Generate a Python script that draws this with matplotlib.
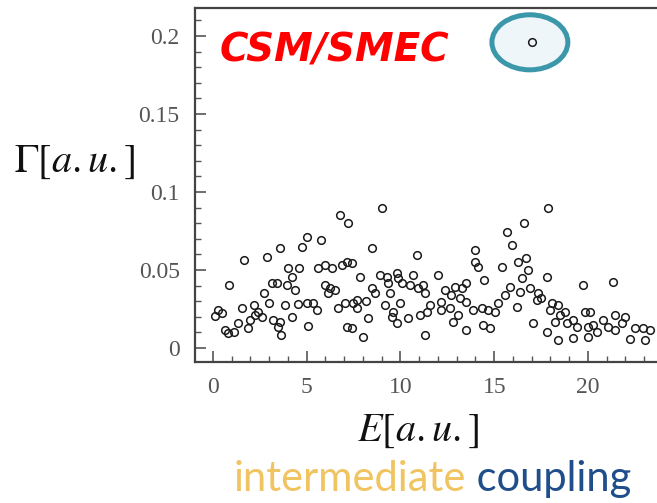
import matplotlib
matplotlib.use("Agg")
import matplotlib.pyplot as plt
from matplotlib.patches import Ellipse
from matplotlib.ticker import MultipleLocator

# Resonance energies E and widths Gamma (arbitrary units), grouped by energy band
energy_low = [1.67, 2.86, 0.87, 3.16, 2.74, 2.99, 2.2, 1.53, 0.25, 0.46, 0.11, 2.42,
              2.24, 1.97, 2.6, 3.22, 1.35, 1.88, 0.64, 0.82, 1.14,
              6.77, 7.22, 5.0, 4.73, 5.76, 3.57, 4.02, 4.59, 5.62, 5.97, 6.33, 6.86,
              7.13, 7.4, 4.2, 3.93, 4.37, 3.4, 5.97, 6.24, 6.15, 6.51, 3.84, 4.55,
              5.0, 5.35, 5.53, 6.68, 7.04, 7.48, 3.57, 4.2, 3.48, 3.65, 5.08, 7.13, 7.4]
width_low = [0.0564, 0.0585, 0.0404, 0.0415, 0.035, 0.0286, 0.0276, 0.0254, 0.0244,
             0.0222, 0.0207, 0.0233, 0.0212, 0.018, 0.0201, 0.018, 0.0158, 0.0126,
             0.0115, 0.0094, 0.0104,
             0.0853, 0.0799, 0.0714, 0.065, 0.0692, 0.0639, 0.0511, 0.0511, 0.0511,
             0.0532, 0.0511, 0.0532, 0.0553, 0.0543, 0.0457, 0.0404, 0.0372, 0.0415,
             0.0404, 0.0383, 0.035, 0.0372, 0.0276, 0.028, 0.0286, 0.0286, 0.0244,
             0.0254, 0.0286, 0.0286, 0.0169, 0.0201, 0.0137, 0.0083, 0.0143, 0.0137,
             0.0126]

energy_mid = [9.03, 8.46, 10.86, 7.84, 8.91, 9.26, 9.8, 9.89, 10.68, 9.35, 10.06, 10.51,
              11.22, 10.95, 8.46, 8.64, 9.44, 11.31, 7.66, 8.18, 9.17, 9.97, 7.66, 11.57,
              8.28, 9.62, 9.53, 9.8, 10.42, 11.04, 11.4, 8.02, 11.31,
              15.66, 15.93, 13.97, 13.97, 14.15, 15.4, 12.02, 14.47, 13.52, 12.91, 12.37,
              13.26, 15.84, 15.57, 12.72, 12.18, 13.17, 13.52, 15.22, 12.18, 12.64,
              13.88, 14.33, 14.68, 15.04, 13.08, 12.82, 13.52, 14.42, 14.77]
width_mid = [0.0899, 0.0639, 0.0596, 0.0457, 0.0468, 0.0457, 0.0478, 0.0447, 0.0468,
             0.0415, 0.0415, 0.0404, 0.0404, 0.0383, 0.0383, 0.035, 0.035, 0.035,
             0.0308, 0.0301, 0.0276, 0.0286, 0.0254, 0.0276, 0.019, 0.0233, 0.0201,
             0.0158, 0.019, 0.0212, 0.0233, 0.0072, 0.0083,
             0.0746, 0.066, 0.0628, 0.0553, 0.0521, 0.0521, 0.0468, 0.0436, 0.0415,
             0.0393, 0.0372, 0.0383, 0.0393, 0.034, 0.034, 0.0297, 0.0318, 0.0297,
             0.0286, 0.0244, 0.0254, 0.0244, 0.0254, 0.0244, 0.0233, 0.0212, 0.0169,
             0.0115, 0.0147, 0.0126]

energy_high = [17.88, 16.6, 16.72, 16.28, 16.82, 17.8, 16.46, 19.75, 16.37, 16.9, 17.35,
               17.26, 17.52, 18.06, 16.2, 18.42, 17.97, 18.77, 18.51, 19.84, 19.2, 18.24,
               18.86, 19.39, 20.02, 17.08, 17.8, 18.42, 19.2, 20.02,
               21.35, 21.44, 21.97, 20.82, 20.28, 21.08, 21.79, 20.46, 21.44, 22.51,
               22.95, 23.31, 22.24, 23.04, 20.1]
width_high = [0.0899, 0.0799, 0.0575, 0.0553, 0.05, 0.0457, 0.0447, 0.0404, 0.0361,
              0.0383, 0.035, 0.0308, 0.0318, 0.0286, 0.0265, 0.0276, 0.0244, 0.0233,
              0.0212, 0.0233, 0.018, 0.0169, 0.0158, 0.0137, 0.0137, 0.0158, 0.0104,
              0.0051, 0.0062, 0.0072,
              0.0421, 0.0212, 0.0201, 0.018, 0.0147, 0.0137, 0.0158, 0.0104, 0.0115,
              0.0126, 0.0126, 0.0115, 0.0058, 0.0051, 0.0233]

# The single very broad (collective) resonance
energy_broad = [17.0]
width_broad = [0.196]

x_ticks = [0, 5, 10, 15, 20]
x_tick_labels = ["0", "5", "10", "15", "20"]
y_ticks = [0, 0.05, 0.1, 0.15, 0.2]
y_tick_labels = ["0", "0.05", "0.1", "0.15", "0.2"]

plt.rcParams["mathtext.fontset"] = "stix"

fig = plt.figure(figsize=(6.57, 5.03), dpi=100)
ax = fig.add_axes([0.2968, 0.2803, 0.7032, 0.7038])

energies = energy_low + energy_mid + energy_high + energy_broad
widths = width_low + width_mid + width_high + width_broad
ax.plot(energies, widths, linestyle="none", marker="o", markersize=5.5,
        markerfacecolor="none", markeredgecolor="#1a1a1a", markeredgewidth=1.1,
        zorder=3)

# Highlight of the broad state
ax.add_patch(Ellipse((16.9, 0.196), width=4.05, height=0.0353,
                     facecolor="#eef6f9", edgecolor="#3b97aa", linewidth=3.6,
                     zorder=2))

ax.text(0.37, 0.191, "CSM/SMEC", color="#ff0000", fontsize=28,
        fontweight="bold", fontstyle="italic", family="DejaVu Sans",
        ha="left", va="center", zorder=4)

ax.set_xlim(-0.96, 23.68)
ax.set_ylim(-0.009, 0.218)

ax.set_xticks(x_ticks)
ax.set_xticklabels(x_tick_labels)
ax.set_yticks(y_ticks)
ax.set_yticklabels(y_tick_labels)
ax.xaxis.set_minor_locator(MultipleLocator(1))
ax.yaxis.set_minor_locator(MultipleLocator(0.01))

for lab in ax.get_xticklabels() + ax.get_yticklabels():
    lab.set_family("Liberation Serif")
    lab.set_fontsize(17)
    lab.set_color("#1a1a1a")

ax.tick_params(which="both", direction="in", colors="#555555", top=False, right=False)
ax.tick_params(which="major", length=8, width=1.2, pad=11)
ax.tick_params(which="minor", length=4, width=1.0)

for side in ("left", "bottom", "top"):
    ax.spines[side].set_color("#444444")
    ax.spines[side].set_linewidth(1.6)
ax.spines["right"].set_visible(False)

fig.text(0.114, 0.68, r"$\Gamma[a.u.]$", fontsize=29, ha="center", va="center",
         color="#111111")
fig.text(0.636, 0.145, r"$E[a.u.]$", fontsize=29, ha="center", va="center",
         color="#111111")

t1 = fig.text(0.356, 0.024, "intermediate", fontsize=30, family="Lato",
              color="#f1c462", ha="left", va="baseline")
ax.annotate(" coupling", xy=(1, 0), xycoords=t1, fontsize=30, family="Lato",
            color="#1f4e8a", ha="left", va="bottom", annotation_clip=False)

fig.savefig("out.png", dpi=100)
